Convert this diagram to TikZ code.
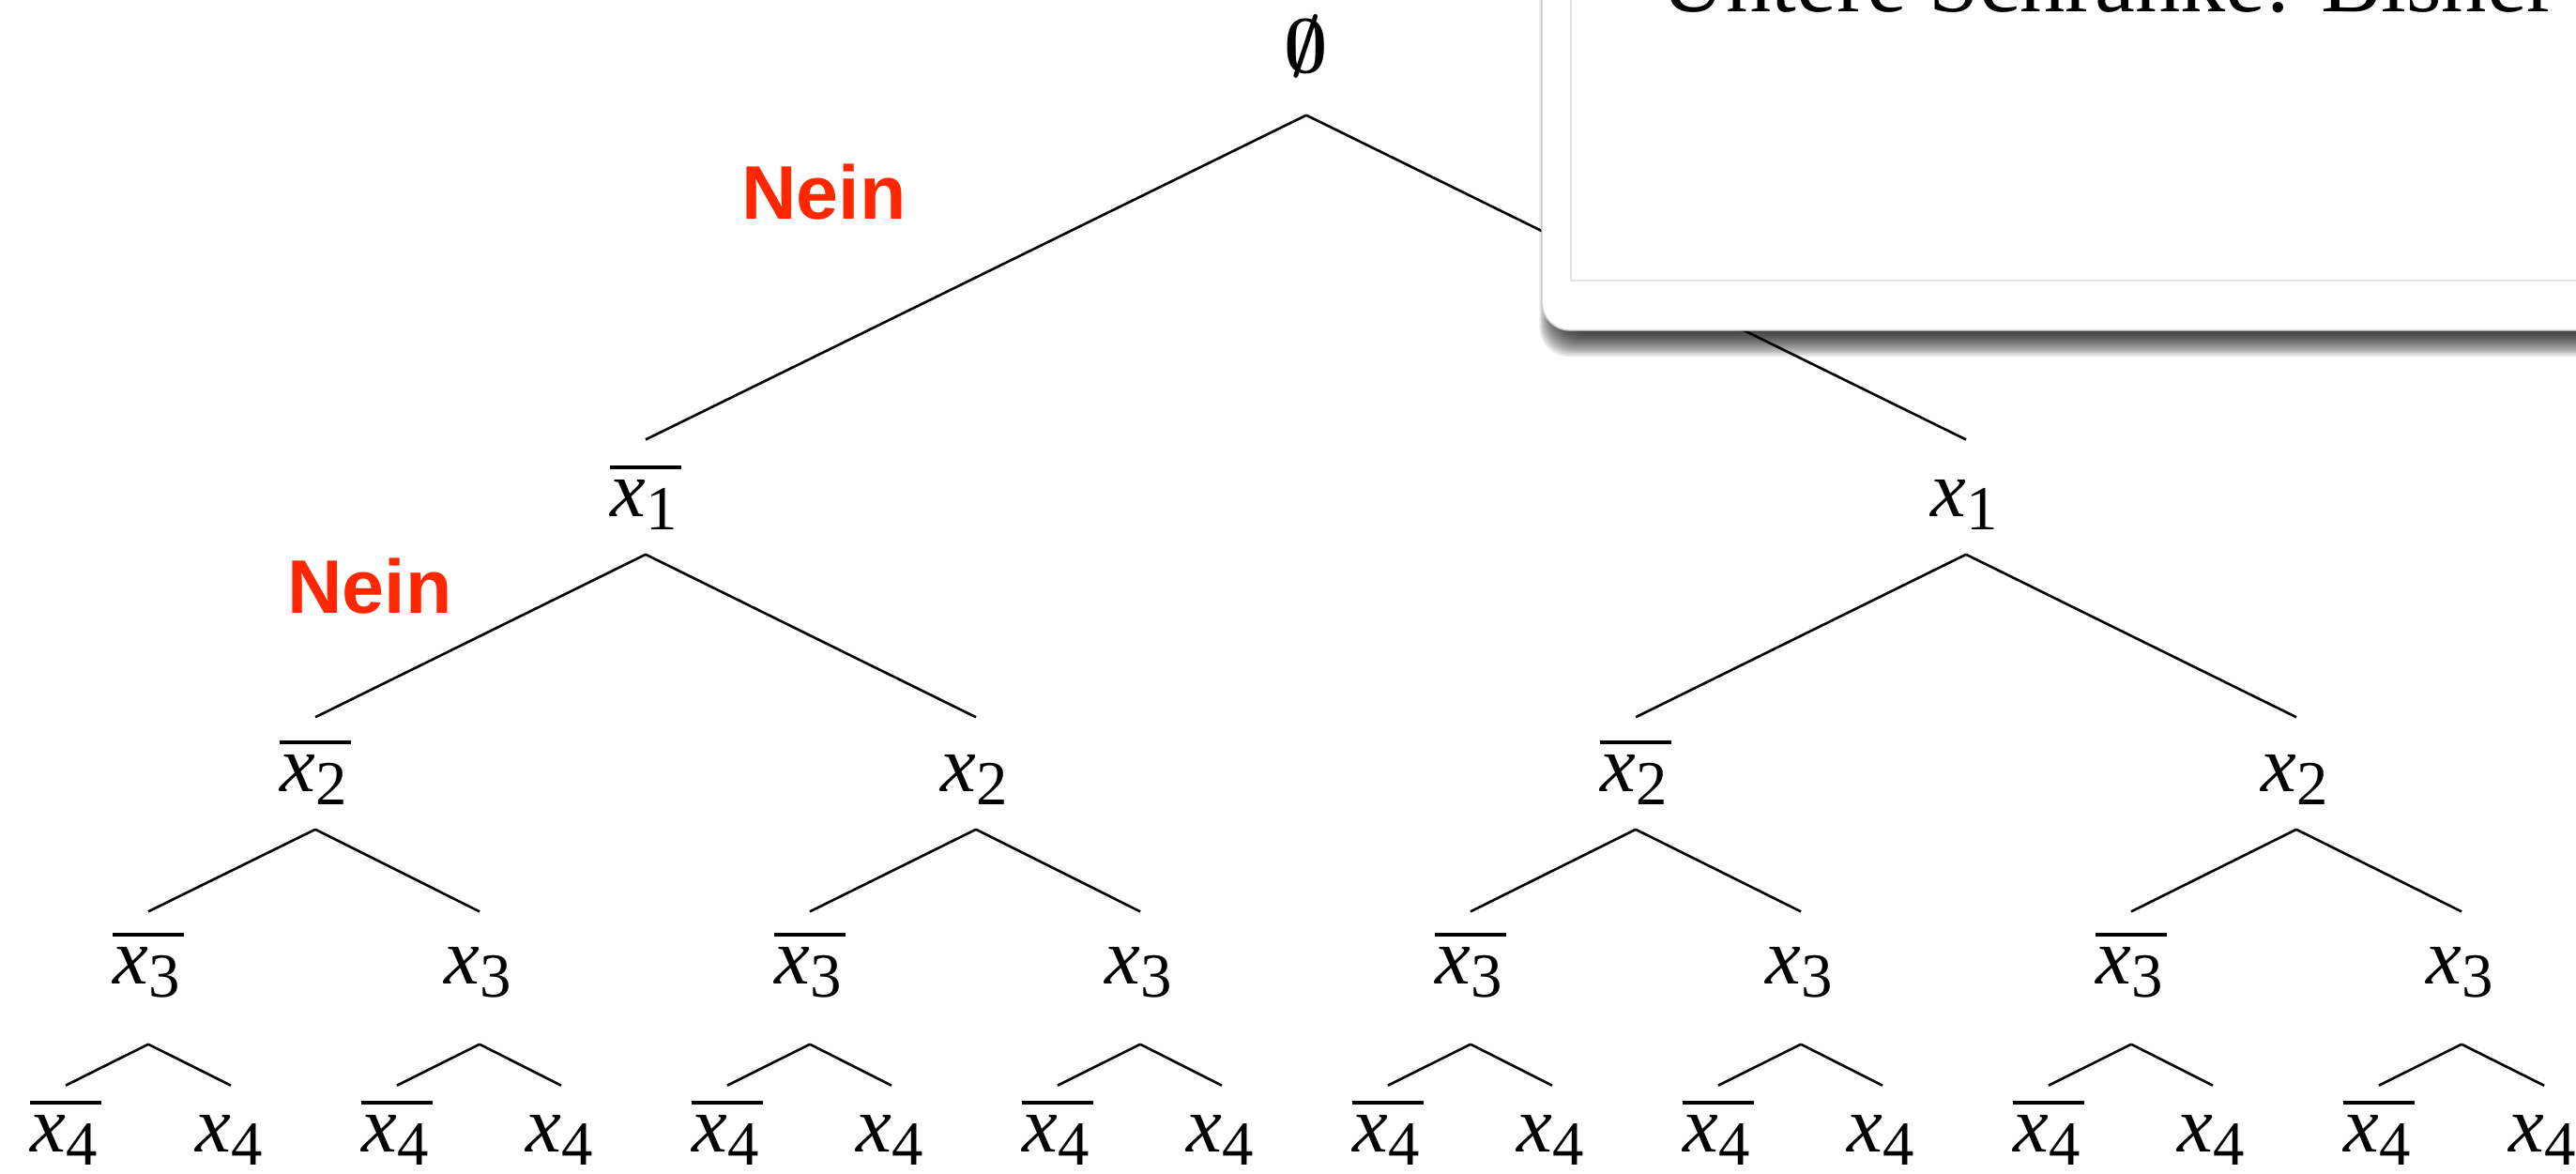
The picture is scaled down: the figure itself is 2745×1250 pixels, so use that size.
\documentclass[tikz,border=0pt]{standalone}
\usepackage{fontspec}
\usepackage{graphicx}
\setmainfont{Liberation Serif}
\newfontfamily\neinfont{Liberation Sans}
\definecolor{neinred}{RGB}{255,38,0}
\newcommand\xn[1]{\hbox{\fontsize{24.2}{26}\selectfont\itshape x\/\kern0.3pt\raisebox{-4pt}{\fontsize{19}{20}\selectfont\upshape #1}\kern1pt}}
\newcommand\xb[1]{\vbox{\hrule height 1.1pt\kern3.2pt\xn{#1}}}
\begin{document}
\begin{tikzpicture}[x=0.01cm,y=-0.01cm,
  edge/.style={line width=0.75pt, black},
  lab/.style={inner sep=0pt, anchor=base},
  lvroot/.style={lab, text height=20pt, text depth=12.8pt},
  lvA/.style={lab, text height=23pt, text depth=11.4pt},
  lvB/.style={lab, text height=22.2pt, text depth=11.4pt},
  lvC/.style={lab, text height=21.6pt, text depth=18.2pt},
  lvD/.style={lab, text height=19.8pt, text depth=3pt},
  nein/.style={anchor=base, inner sep=0pt, text=neinred, font=\neinfont\bfseries\fontsize{23}{25}\selectfont},
  popshadow/.style={fill=black, opacity=0.085, rounded corners=9pt},
  popbox/.style={fill=white, draw=black!20, line width=0.4pt, rounded corners=8.5pt},
  popline/.style={draw=black!10, line width=0.5pt},
  poptext/.style={anchor=base west, inner sep=0pt, font=\fontsize{27.4}{30}\selectfont}]
\useasboundingbox (0,0) rectangle (2745,1250);
\clip (0,0) rectangle (2745,1250);
\fill[white] (0,0) rectangle (2745,1250);

% root
\node[lvroot] (t) at (1392,77) {\scalebox{2.3}{\boldmath$\emptyset$}};
% level 1
\node[lvA] (t0) at (688,550) {\xb{1}};
\node[lvA] (t1) at (2095,550) {\xn{1}};
% level 2
\node[lvB] (t00) at (336,843) {\xb{2}};
\node[lvB] (t01) at (1040,843) {\xn{2}};
\node[lvB] (t10) at (1743,843) {\xb{2}};
\node[lvB] (t11) at (2447,843) {\xn{2}};
% level 3
\node[lvC] (t000) at (158,1048) {\xb{3}};
\node[lvC] (t001) at (511,1048) {\xn{3}};
\node[lvC] (t010) at (863,1048) {\xb{3}};
\node[lvC] (t011) at (1215,1048) {\xn{3}};
\node[lvC] (t100) at (1567,1048) {\xb{3}};
\node[lvC] (t101) at (1919,1048) {\xn{3}};
\node[lvC] (t110) at (2271,1048) {\xb{3}};
\node[lvC] (t111) at (2623,1048) {\xn{3}};
% level 4
\node[lvD] (t0000) at (70,1227) {\xb{4}};
\node[lvD] (t0001) at (246,1227) {\xn{4}};
\node[lvD] (t0010) at (423,1227) {\xb{4}};
\node[lvD] (t0011) at (598,1227) {\xn{4}};
\node[lvD] (t0100) at (775,1227) {\xb{4}};
\node[lvD] (t0101) at (950,1227) {\xn{4}};
\node[lvD] (t0110) at (1127,1227) {\xb{4}};
\node[lvD] (t0111) at (1302,1227) {\xn{4}};
\node[lvD] (t1000) at (1479,1227) {\xb{4}};
\node[lvD] (t1001) at (1654,1227) {\xn{4}};
\node[lvD] (t1010) at (1831,1227) {\xb{4}};
\node[lvD] (t1011) at (2006,1227) {\xn{4}};
\node[lvD] (t1100) at (2183,1227) {\xb{4}};
\node[lvD] (t1101) at (2358,1227) {\xn{4}};
\node[lvD] (t1110) at (2535,1227) {\xb{4}};
\node[lvD] (t1111) at (2711,1227) {\xn{4}};

\foreach \p in {t,t0,t1,t00,t01,t10,t11,t000,t001,t010,t011,t100,t101,t110,t111}
  \draw[edge] (\p.south) -- (\p0.north) (\p.south) -- (\p1.north);

% labels
\node[nein] (nein1) at (878,233) {Nein};
\node[nein] (nein2) at (394,653) {Nein};

% popup
\foreach \i in {1,...,14}
  \fill[popshadow] (1660-1.4*\i,-60) rectangle (2850,352+2*\i);
\draw[popbox] (1643,-60) rectangle (2850,352);
\draw[popline] (1674,-60) -- (1674,299) -- (2850,299);
\node[poptext] (ut) at (1769,12) {Untere Schranke: Bisher};
\end{tikzpicture}
\end{document}
